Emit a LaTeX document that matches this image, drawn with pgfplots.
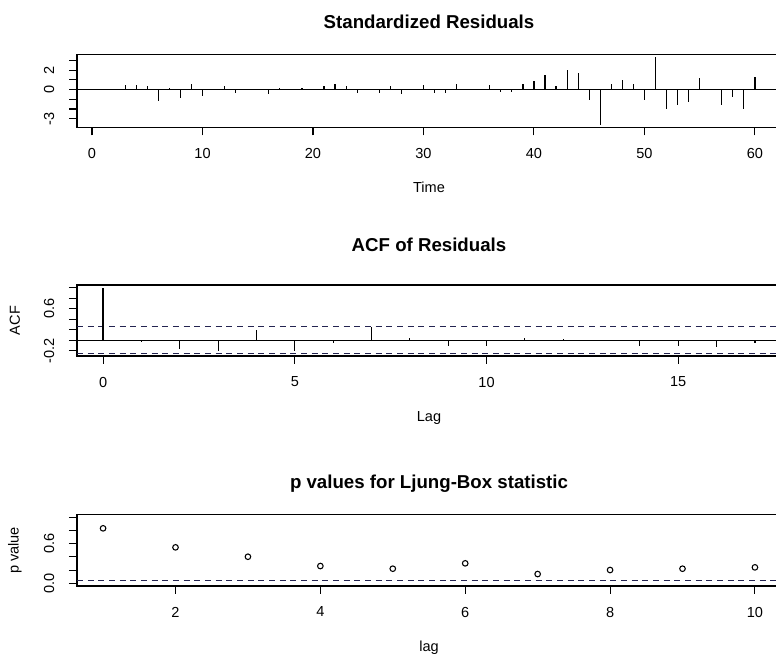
\documentclass[border=0pt]{standalone}
\usepackage{pgfplots}
\pgfplotsset{compat=1.18}
\usepackage{fontspec}
\setmainfont{Liberation Sans}
\definecolor{ciblue}{RGB}{35,35,80}

\pgfplotstableread{
t v
1 0
2 0
3 0.48
4 0.48
5 0.34
6 -1.17
7 0.20
8 -0.90
9 0.62
10 -0.62
11 0.03
12 0.34
13 -0.34
14 0.0
15 0.0
16 -0.48
17 0.20
18 0.0
19 0.20
20 0.0
21 0.34
22 0.62
23 0.34
24 -0.34
25 0.0
26 -0.34
27 0.34
28 -0.48
29 0.0
30 0.45
31 -0.34
32 -0.34
33 0.62
34 0.0
35 0.0
36 0.45
37 -0.20
38 -0.20
39 0.62
40 0.86
41 1.48
42 0.34
43 1.99
44 1.72
45 -1.03
46 -3.60
47 0.62
48 1.03
49 0.62
50 -1.03
51 3.33
52 -2.03
53 -1.58
54 -1.24
55 1.17
56 0.0
57 -1.58
58 -0.79
59 -2.03
60 1.31
}\resid

\pgfplotstableread{
lag acf
0 1.0
1 -0.044
2 -0.17
3 -0.20
4 0.19
5 -0.20
6 -0.05
7 0.25
8 0.05
9 -0.11
10 -0.11
11 0.05
12 0.025
13 0.0
14 -0.11
15 -0.11
16 -0.14
17 -0.06
}\acfdata

\pgfplotstableread{
lag p
1 0.833
2 0.545
3 0.403
4 0.262
5 0.222
6 0.303
7 0.141
8 0.202
9 0.222
10 0.242
}\pvals

\pgfplotsset{rstyle/.style={
  scale only axis,
  width=528pt,
  axis line style={line width=0.8pt},
  every tick/.style={line width=0.8pt, black},
  tick align=outside,
  major tick length=6pt,
  tick pos=left,
  ticklabel style={font=\fontsize{10.9}{13}\selectfont, inner sep=0pt},
  xticklabel style={anchor=center},
  yticklabel style={rotate=90, anchor=center},
  xticklabel shift=13.5pt,
  yticklabel shift=15pt,
  label style={font=\fontsize{10.9}{13}\selectfont},
  title style={font=\bfseries\fontsize{14}{16}\selectfont, anchor=center},
  ylabel style={at={(-0.0881,0.5)}, anchor=center},
  anchor=north west,
}}

\begin{document}
\begin{tikzpicture}
\path[use as bounding box] (0pt,0pt) rectangle (582pt,-491.25pt);
\clip (0pt,0pt) rectangle (582pt,-491.25pt);

% Standardized residuals
\begin{axis}[rstyle,
  at={(57.75pt,-40.875pt)},
  height=54.6pt,
  xmin=-1.36, xmax=62.36, ymin=-3.88, ymax=3.61,
  xtick={0,10,20,30,40,50,60},
  xticklabels={0,10,20,30,40,50,60},
  ytick={-3,-2,-1,0,1,2,3},
  yticklabels={-3,{},{},0,{},2,{}},
  title={Standardized Residuals},
  title style={at={(0.5,1.336)}},
  xlabel={Time},
  xlabel style={at={(0.5,-0.824)}, anchor=center},
]
\addplot[black, line width=0.8pt] coordinates {(-1.36,0) (62.36,0)};
\addplot[ycomb, black, line width=0.9pt, no markers] table[x=t,y=v] {\resid};
\end{axis}

% ACF of residuals
\begin{axis}[rstyle,
  at={(57.75pt,-213.75pt)},
  height=53.25pt,
  xmin=-0.68, xmax=17.68, ymin=-0.303, ymax=1.053,
  xtick={0,5,10,15},
  xticklabels={0,5,10,15},
  ytick={-0.2,0,0.2,0.4,0.6,0.8,1.0},
  yticklabels={-0.2,{},{},{},0.6,{},{}},
  title={ACF of Residuals},
  title style={at={(0.5,1.45)}},
  xlabel={Lag},
  xlabel style={at={(0.5,-0.88)}, anchor=center},
  ylabel={ACF},
]
\addplot[black, line width=0.8pt] coordinates {(-0.68,0) (17.68,0)};
\addplot[ciblue, line width=0.8pt, dash pattern=on 4.5pt off 3.5pt] coordinates {(-0.68,0.253) (17.68,0.253)};
\addplot[ciblue, line width=0.8pt, dash pattern=on 4.5pt off 3.5pt] coordinates {(-0.68,-0.253) (17.68,-0.253)};
\addplot[ycomb, black, line width=0.9pt, no markers] table[x=lag,y=acf] {\acfdata};
\end{axis}

% p values
\begin{axis}[rstyle,
  at={(57.75pt,-386pt)},
  height=53.5pt,
  xmin=0.64, xmax=10.36, ymin=-0.04, ymax=1.04,
  xtick={2,4,6,8,10},
  xticklabels={2,4,6,8,10},
  ytick={0,0.2,0.4,0.6,0.8,1.0},
  yticklabels={0.0,{},{},0.6,{},{}},
  title={p values for Ljung-Box statistic},
  title style={at={(0.5,1.319)}},
  xlabel={lag},
  xlabel style={at={(0.5,-0.87)}, anchor=center},
  ylabel={p value},
]
\addplot[ciblue, line width=0.8pt, dash pattern=on 4.5pt off 3.5pt] coordinates {(0.64,0.05) (10.36,0.05)};
\addplot[only marks, mark=o, mark size=2.1pt, black, mark options={line width=0.8pt}] table[x=lag,y=p] {\pvals};
\end{axis}
\end{tikzpicture}
\end{document}
